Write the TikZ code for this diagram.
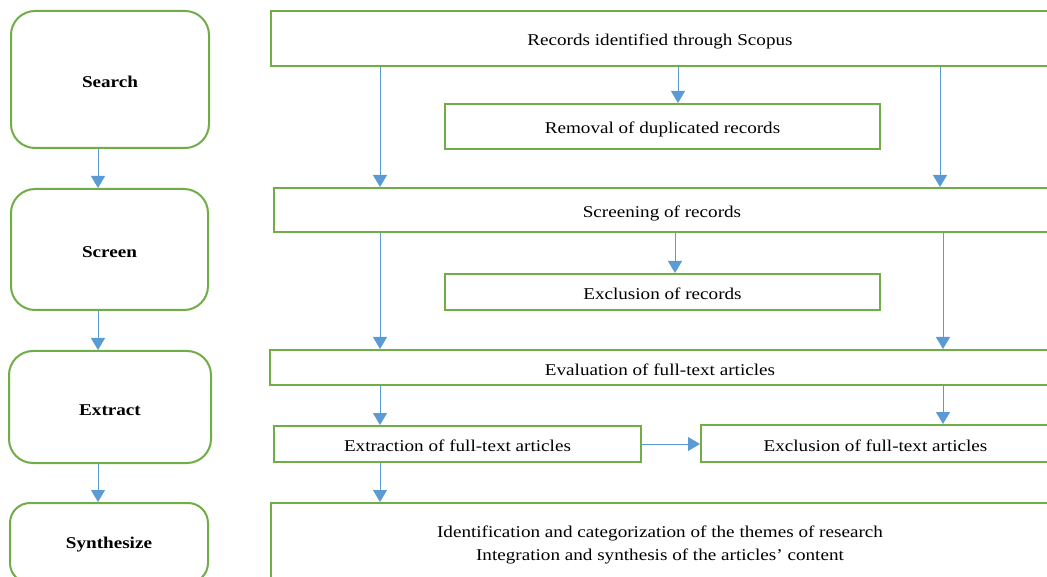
\documentclass[tikz,border=0pt]{standalone}
\usepackage{fontspec}
\setmainfont{Liberation Serif}[FakeStretch=1.16]
\usetikzlibrary{arrows.meta}
\definecolor{bgreen}{RGB}{112,173,71}
\definecolor{ablue}{RGB}{91,155,213}
\tikzset{
  phase/.style={draw=bgreen, line width=2pt, rounded corners=24pt, fill=white, font=\fontsize{16.5}{20}\selectfont\bfseries, inner sep=0pt, text height=16pt, text depth=0pt},
  rbox/.style={draw=bgreen, line width=2pt, fill=white, font=\fontsize{16.5}{23}\selectfont, inner sep=0pt, text height=15pt, text depth=0pt},
  mbox/.style={draw=bgreen, line width=2pt, fill=white, font=\fontsize{16.5}{23}\selectfont, align=center, inner sep=0pt},
  arr/.style={draw=ablue, line width=1pt, -{Triangle[width=14pt,length=12pt]}}
}
\begin{document}
\begin{tikzpicture}[x=1pt,y=1pt]
\useasboundingbox (0,0) rectangle (1047,-577);
\clip (0,0) rectangle (1047,-577);
% left phases
\node[phase, minimum width=198pt, minimum height=137pt] (search) at (110,-79.5) {Search};
\node[phase, minimum width=197pt, minimum height=121pt] (screen) at (109.5,-249.5) {Screen};
\node[phase, minimum width=202pt, minimum height=112pt] (extract) at (110,-407) {Extract};
\node[phase, minimum width=198pt, minimum height=80pt, rounded corners=20pt, text height=10pt] (synth) at (109,-543) {Synthesize};
% right boxes
\node[rbox, minimum width=778pt, minimum height=55pt] (rec) at (660,-38.5) {Records identified through Scopus};
\node[rbox, minimum width=435pt, minimum height=45pt] (rem) at (662.5,-126.5) {Removal of duplicated records};
\node[rbox, minimum width=776pt, minimum height=44pt] (scr) at (662,-210) {Screening of records};
\node[rbox, minimum width=435pt, minimum height=36pt] (excr) at (662.5,-292) {Exclusion of records};
\node[rbox, minimum width=780pt, minimum height=35pt] (eval) at (660,-367.5) {Evaluation of full-text articles};
\node[rbox, minimum width=367pt, minimum height=36pt] (extr) at (457.5,-444) {Extraction of full-text articles};
\node[rbox, minimum width=349pt, minimum height=37pt] (excf) at (875.5,-443.5) {Exclusion of full-text articles};
\node[mbox, minimum width=778pt, minimum height=84pt] (ident) at (660,-545) {Identification and categorization of the themes of research\\Integration and synthesis of the articles’ content};
% column coordinates
\coordinate (xa) at (98,0);
\coordinate (xl) at (380,0);
\coordinate (xm) at (678,0);
\coordinate (xm2) at (675,0);
\coordinate (xr) at (940,0);
\coordinate (xr2) at (943,0);
% left arrows
\draw[arr] (search.south -| xa) -- (screen.north -| xa);
\draw[arr] (screen.south -| xa) -- (extract.north -| xa);
\draw[arr] (extract.south -| xa) -- (synth.north -| xa);
% right arrows
\draw[arr] (rec.south -| xl) -- (scr.north -| xl);
\draw[arr] (rec.south -| xm) -- (rem.north -| xm);
\draw[arr] (rec.south -| xr) -- (scr.north -| xr);
\draw[arr] (scr.south -| xl) -- (eval.north -| xl);
\draw[arr] (scr.south -| xm2) -- (excr.north -| xm2);
\draw[arr] (scr.south -| xr2) -- (eval.north -| xr2);
\draw[arr] (eval.south -| xl) -- (extr.north -| xl);
\draw[arr] (eval.south -| xr2) -- (excf.north -| xr2);
\draw[arr] (extr.east) -- (extr.east -| excf.west);
\draw[arr] (extr.south -| xl) -- (ident.north -| xl);
\end{tikzpicture}
\end{document}
